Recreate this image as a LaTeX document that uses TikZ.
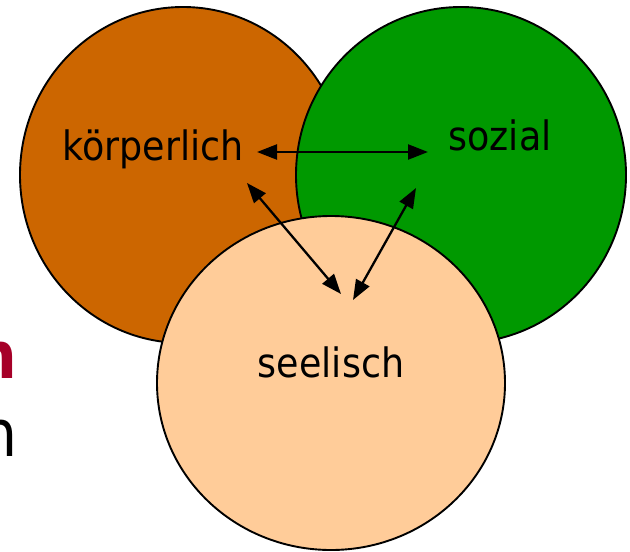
\documentclass[tikz,border=0pt]{standalone}
\usepackage{fontspec}
\setmainfont{DejaVu Sans Condensed}
\usetikzlibrary{arrows.meta,shapes.geometric}
\definecolor{koerper}{RGB}{204,102,0}
\definecolor{sozialgreen}{RGB}{0,153,0}
\definecolor{seele}{RGB}{255,204,153}
\definecolor{darkred}{RGB}{166,0,40}
\tikzset{
  blob/.style={ellipse, draw=black, line width=1.9pt, inner sep=0pt},
  lbl/.style={anchor=base, inner sep=0pt, font=\fontsize{40.5}{40.5}\selectfont},
  frag/.style={anchor=base east, inner sep=0pt, font=\fontsize{65}{65}\selectfont},
  link/.style={line width=2.3pt, {Triangle[length=20pt,width=15pt]}-{Triangle[length=20pt,width=15pt]}}
}
\begin{document}
\begin{tikzpicture}[x=1pt,y=-1pt]
\useasboundingbox (0,0) rectangle (630,552);
\begin{scope}
\clip (0,0) rectangle (630,552);
\node[frag, text=darkred, font=\fontsize{65}{65}\selectfont\bfseries] (fragA) at (17,378) {n};
\node[frag] (fragB) at (18,456) {n};
\end{scope}
\node[blob, fill=koerper, minimum width=326pt, minimum height=336pt] (koerperC) at (183,175) {};
\node[blob, fill=sozialgreen, minimum width=330pt, minimum height=336pt] (sozialC) at (461,175) {};
\node[blob, fill=seele, minimum width=348pt, minimum height=334pt] (seeleC) at (331,383) {};
\node[lbl] (k) at (153,160) {körperlich};
\node[lbl] (s) at (500,150) {sozial};
\node[lbl] (e) at (331,377) {seelisch};
\coordinate (kR) at (257,152);
\coordinate (sL) at (428,152);
\coordinate (kB) at (247,183);
\coordinate (eL) at (341,294);
\coordinate (sB) at (416,188);
\coordinate (eR) at (353,300);
\draw[link] (kR) -- (sL);
\draw[link] (kB) -- (eL);
\draw[link] (sB) -- (eR);
\end{tikzpicture}
\end{document}
